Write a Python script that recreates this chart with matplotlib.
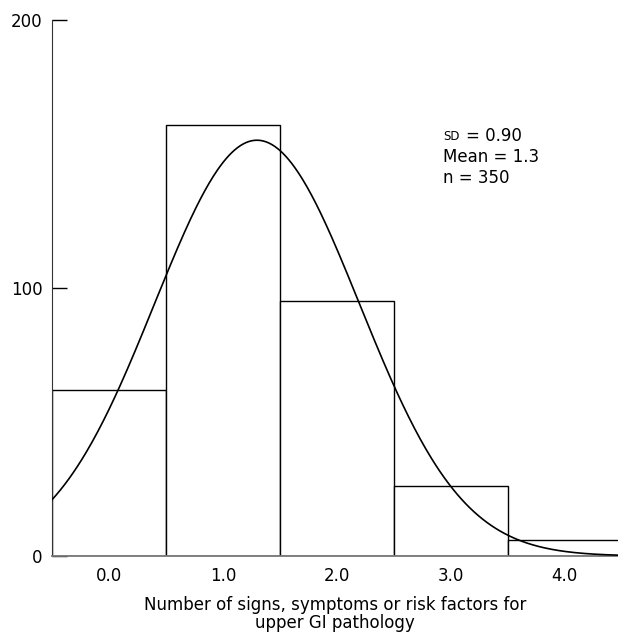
import numpy as np
import matplotlib
matplotlib.use('Agg')
import matplotlib.pyplot as plt

categorias = [0, 1, 2, 3, 4]
etiquetas_x = ['0.0', '1.0', '2.0', '3.0', '4.0']
frecuencias = [62, 161, 95, 26, 6]

# Parametros de la curva normal mostrados en la figura
media = 1.3
desv = 0.90
n_total = 350

plt.rcParams['font.family'] = ['DejaVu Sans']

fig = plt.figure(figsize=(6.18, 6.37), dpi=100)
W, H = 618, 637
ax = fig.add_axes([52 / W, 81 / H, (618 - 52) / W, (556 - 20) / H])

# Barras del histograma
ax.bar(categorias, frecuencias, width=1.0, facecolor='white',
       edgecolor='black', linewidth=1.0, zorder=2)

# Curva normal ajustada (n * densidad, ancho de clase = 1)
xs = np.linspace(-0.5, 4.5, 400)
ys = n_total / (desv * np.sqrt(2 * np.pi)) * np.exp(-0.5 * ((xs - media) / desv) ** 2)
ax.plot(xs, ys, color='black', linewidth=1.2, zorder=3)

ax.set_xlim(-0.5, 4.47)
ax.set_ylim(0, 200)

ax.spines['top'].set_visible(False)
ax.spines['right'].set_visible(False)
ax.spines['left'].set_color('#333333')
ax.spines['bottom'].set_color('#777777')
ax.spines['bottom'].set_linewidth(1.3)

ax.set_yticks([0, 100, 200])
ax.tick_params(axis='y', direction='in', length=11, width=1, pad=7,
               labelsize=12, colors='black')
ax.set_xticks(categorias)
ax.set_xticklabels(etiquetas_x)
ax.tick_params(axis='x', length=0, pad=8, labelsize=12)

ax.set_xlabel('Number of signs, symptoms or risk factors for\nupper GI pathology',
              fontsize=12, labelpad=8, linespacing=1.0)

# Cuadro de estadisticos
fig.text(443 / W, 1 - 136 / H, 'SD', fontsize=8.5, va='center', ha='left')
fig.text(466 / W, 1 - 136 / H, '= 0.90', fontsize=12, va='center', ha='left')
fig.text(443 / W, 1 - 157 / H, 'Mean = 1.3', fontsize=12, va='center', ha='left')
fig.text(443 / W, 1 - 178 / H, 'n = 350', fontsize=12, va='center', ha='left')

plt.savefig('out.png', dpi=100)
